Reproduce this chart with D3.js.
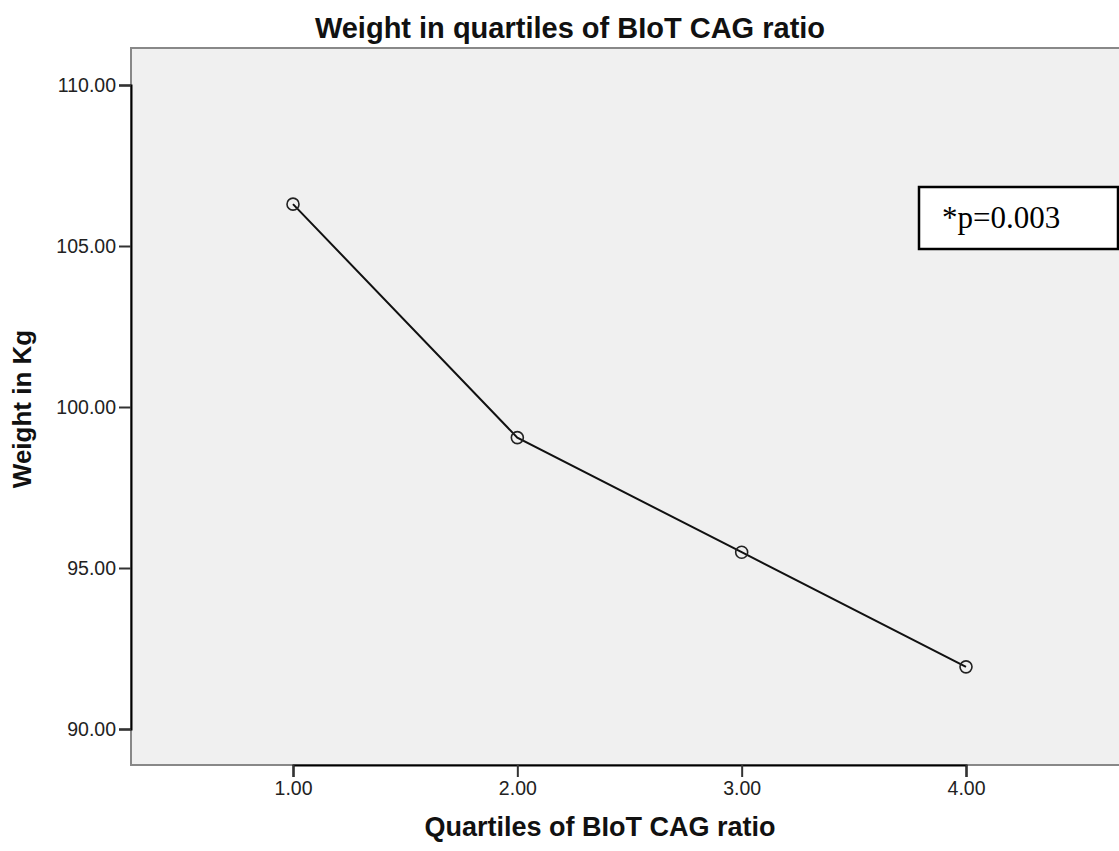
<!DOCTYPE html>
<html><head><meta charset="utf-8">
<script src="https://cdn.jsdelivr.net/npm/d3@7"></script>
<style>body{margin:0;background:#fff}svg{display:block}</style>
</head><body>
<svg id="c" width="1119" height="851"></svg>
<script>
const quartiles = [1, 2, 3, 4];
const weights = [106.30, 99.05, 95.49, 91.93];
const xTicks = [1, 2, 3, 4];
const yTicks = [90, 95, 100, 105, 110];
const title = "Weight in quartiles of BIoT CAG ratio";
const xLabel = "Quartiles of BIoT CAG ratio";
const yLabel = "Weight in Kg";
const pText = "*p=0.003";

const svg = d3.select("#c");
const L = 131, T = 48, R = 1125, B = 765;
const x = d3.scaleLinear().domain([1, 4]).range([293, 966]);
const y = d3.scaleLinear().domain([90, 110]).range([729, 85]);

svg.append("rect").attr("x", L).attr("y", T).attr("width", R - L).attr("height", B - T)
  .attr("fill", "#f0f0f0").attr("stroke", "#888").attr("stroke-width", 2);

const fmt = d3.format(".2f");
const ya = svg.append("g").attr("transform", `translate(${L},0)`)
  .call(d3.axisLeft(y).tickValues(yTicks).tickFormat(fmt).tickSize(12).tickPadding(3));
const xa = svg.append("g").attr("transform", `translate(0,${B})`)
  .call(d3.axisBottom(x).tickValues(xTicks).tickFormat(fmt).tickSize(12).tickPadding(4));
[ya, xa].forEach(a => {
  a.select(".domain").attr("stroke", "#000").attr("stroke-width", 2);
  a.selectAll(".tick line").attr("stroke", "#333").attr("stroke-width", 2);
  a.selectAll("text").attr("font-family", "Liberation Sans, Arial, sans-serif")
    .attr("font-size", 19.5).attr("fill", "#222");
});

const data = quartiles.map((q, i) => ({q, w: weights[i]}));
svg.append("path").datum(data)
  .attr("d", d3.line().x(d => x(d.q)).y(d => y(d.w)))
  .attr("fill", "none").attr("stroke", "#111").attr("stroke-width", 2);
svg.selectAll("circle.pt").data(data).join("circle").attr("class", "pt")
  .attr("cx", d => x(d.q)).attr("cy", d => y(d.w)).attr("r", 6)
  .attr("fill", "none").attr("stroke", "#222").attr("stroke-width", 1.6);

svg.append("text").attr("x", 570).attr("y", 38).attr("text-anchor", "middle")
  .attr("font-family", "Liberation Sans, Arial, sans-serif").attr("font-weight", "bold")
  .attr("font-size", 29).attr("fill", "#111").text(title);
svg.append("text").attr("x", 600).attr("y", 836).attr("text-anchor", "middle")
  .attr("font-family", "Liberation Sans, Arial, sans-serif").attr("font-weight", "bold")
  .attr("font-size", 27).attr("fill", "#111").text(xLabel);
svg.append("text").attr("transform", "translate(31,409) rotate(-90)").attr("text-anchor", "middle")
  .attr("font-family", "Liberation Sans, Arial, sans-serif").attr("font-weight", "bold")
  .attr("font-size", 26).attr("fill", "#111").text(yLabel);

svg.append("rect").attr("x", 919).attr("y", 187).attr("width", 199).attr("height", 62)
  .attr("fill", "#fff").attr("stroke", "#000").attr("stroke-width", 2.5);
svg.append("text").attr("x", 942).attr("y", 228)
  .attr("font-family", "Liberation Serif, Times New Roman, serif")
  .attr("font-size", 31).attr("fill", "#000").text(pText);
</script>
</body></html>
